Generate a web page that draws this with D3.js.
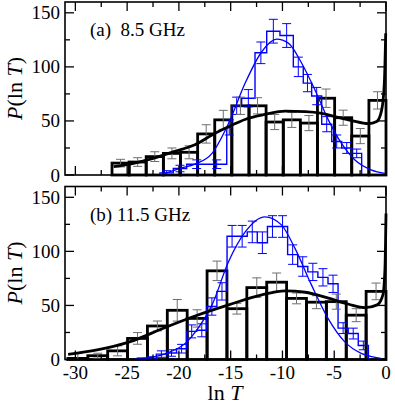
<!DOCTYPE html>
<html><head><meta charset="utf-8">
<script src="https://cdn.jsdelivr.net/npm/d3@7"></script>
<style>body{margin:0;background:#fff}svg{display:block}</style>
</head><body><svg id="c" width="395" height="404" font-family="'Liberation Serif', 'Times New Roman', Times, serif"></svg>
<script>
// ---------- data ----------
const xTicks = [-30,-25,-20,-15,-10,-5,0];
const xMinor = [-27.5,-22.5,-17.5,-12.5,-7.5,-2.5];
const yTicks = [0,50,100,150];
const yMinor = [25,75,125];
const panelLabels = ["(a)  8.5 GHz", "(b) 11.5 GHz"];

// panel (a) black histogram: bin edges, heights, errors
const blackAEdges = [-26.46,-24.81,-23.16,-21.50,-19.85,-18.19,-16.54,-14.89,-13.23,-11.58,-9.92,-8.27,-6.62,-4.96,-3.31,-1.65,0];
const blackAVals  = [11,12,17,20,21,38,51,64,64,49,51,48,71,53,36,69];
const blackAErr   = [3.5,4,4.5,5,6,8.5,8.8,8,7.5,7,7,7,8.5,7,7,8];
// panel (a) blue histogram
const blueAEdges = [-21.83,-20.54,-19.25,-17.32,-15.38,-14.9,-13.94,-12.65,-11.52,-10.24,-8.95,-7.99,-7.18,-6.21,-5.24,-4.28,-3.31,-2.35];
const blueAVals  = [2,6,10,10,44,64,71,113,133,129,100,85,73,47,31,25,20];
const blueAErr   = [2,3,4,4,7,8,8,10,11,11,9,8,8,7,6,5,4];
// panel (a) fitted curves
const blackACurve = [[-26.3,7.7],[-24.4,10.8],[-22.5,15.4],[-20.5,21.6],[-18.45,28],[-16.5,38.6],[-14.9,46],[-13.3,52.5],[-11.7,56],[-9.75,59],[-7.8,58.6],[-6.2,57],[-4.93,54],[-3.3,50.3],[-1.7,47.5],[-0.9,49.4],[-0.42,60],[-0.16,85],[-0.03,131]];
const blueACurve = [[-21.8,0],[-19.9,6.2],[-18.45,10],[-16.8,20],[-15.2,47.8],[-13.6,85],[-12.0,114],[-10.55,125.6],[-9.43,122],[-8.14,103.4],[-6.86,78.7],[-5.57,51],[-4.28,29],[-3.0,13.9],[-1.38,4.6],[-0.1,1.5]];

// panel (b)
const blackBEdges = [-30.72,-28.8,-26.88,-24.96,-23.04,-21.12,-19.2,-17.28,-15.36,-13.44,-11.52,-9.6,-7.68,-5.76,-3.84,-1.92,0];
const blackBVals  = [1,3.5,8,19.5,31,45.5,38,82,47,66.5,71.5,56.5,53,53.5,41,63];
const blackBErr   = [4.5,2.3,4.6,5.4,4.6,10,8,9,5,9,8.5,5,6,7,6,7.7];
const blueBEdges = [-24.13,-23.15,-22.18,-21.2,-20.23,-19.25,-18.28,-17.3,-16.33,-15.35,-14.38,-13.4,-12.43,-11.45,-10.48,-9.5,-8.53,-7.55,-6.58,-5.6,-4.63,-3.65,-2.68,-1.7];
const blueBVals  = [0.5,1,5,6,10,26,27,49,63,114,114,118,108,123,123,97,86,81,76,70,29,24,13,6].slice(0,23);
const blueBErr   = [1,1.5,3,3,4,6,6,8,8,10,10,10,10,10,10,9,9,8,8,8,5,5,4];
const blackBCurve = [[-30.7,4.8],[-27.9,8.8],[-24.7,16.5],[-21.5,28.9],[-18.5,40],[-15.2,50.5],[-12,59.7],[-9.75,63.4],[-7.8,62.2],[-5.56,56.7],[-3.6,51.1],[-2.0,48],[-0.85,50.5],[-0.3,59.7],[-0.1,84],[0,135]];
const blueBCurve = [[-23.9,0.5],[-21.2,5.7],[-19.2,16.5],[-18.3,27],[-16.8,50.5],[-15.2,90.6],[-13.6,118],[-11.7,132],[-10.1,124.5],[-8.8,103],[-7.2,69],[-5.6,38],[-4.0,16.5],[-2.4,5.7],[-1.4,2.6],[-0.5,1]];

// ---------- drawing ----------
const FONT = "'Liberation Serif', 'Times New Roman', Times, serif";
const svg = d3.select("#c");
const X0 = 65, X1 = 386;
const x = d3.scaleLinear().domain([-31,0]).range([X0,X1]);
const panels = [
  {top:2, bot:175, label:panelLabels[0], bE:blackAEdges, bV:blackAVals, bErr:blackAErr, uE:blueAEdges, uV:blueAVals, uErr:blueAErr, bC:blackACurve, uC:blueACurve, xlab:false},
  {top:186.5, bot:359.5, label:panelLabels[1], bE:blackBEdges, bV:blackBVals, bErr:blackBErr, uE:blueBEdges, uV:blueBVals, uErr:blueBErr, bC:blackBCurve, uC:blueBCurve, xlab:true}
];
const BLUE = "#0000ff", GREY = "#6e6e6e";

panels.forEach((p,pi) => {
  const y = d3.scaleLinear().domain([0,160]).range([p.bot,p.top]);
  const g = svg.append("g");

  const bins = p.bV.map((v,i)=>({l:p.bE[i], r:p.bE[i+1], v, e:p.bErr[i]}));
  g.selectAll("rect.b").data(bins).enter().append("rect")
    .attr("x", d=>x(d.l)).attr("y", d=>y(d.v))
    .attr("width", d=>x(d.r)-x(d.l)).attr("height", d=>y(0)-y(d.v))
    .attr("fill","none").attr("stroke","#000").attr("stroke-width",2.8);

  const ub = p.uV.map((v,i)=>({l:p.uE[i], r:p.uE[i+1], v, e:p.uErr[i]}));
  const stepPts = [[ub[0].l,0]];
  ub.forEach(d=>{stepPts.push([d.l,d.v]); stepPts.push([d.r,d.v]);});
  stepPts.push([ub[ub.length-1].r,0]);
  g.append("path").attr("d", d3.line().x(d=>x(d[0])).y(d=>y(d[1]))(stepPts))
    .attr("fill","none").attr("stroke",BLUE).attr("stroke-width",1.4);

  function errs(data, color, sw){
    data.forEach(d=>{
      const cx = x((d.l+d.r)/2), y1 = y(d.v+d.e), y2 = y(Math.max(0,d.v-d.e));
      g.append("line").attr("x1",cx).attr("x2",cx).attr("y1",y1).attr("y2",y2).attr("stroke",color).attr("stroke-width",sw);
      [y1,y2].forEach(yy=>g.append("line").attr("x1",cx-4.5).attr("x2",cx+4.5).attr("y1",yy).attr("y2",yy).attr("stroke",color).attr("stroke-width",sw));
    });
  }
  errs(ub, BLUE, 1);
  errs(bins, GREY, 1);

  const cl = d3.line().x(d=>x(d[0])).y(d=>y(d[1])).curve(d3.curveMonotoneX);
  g.append("path").attr("d", cl(p.uC)).attr("fill","none").attr("stroke",BLUE).attr("stroke-width",1.3);
  g.append("path").attr("d", cl(p.bC)).attr("fill","none").attr("stroke","#000").attr("stroke-width",2.8);

  g.append("rect").attr("x",X0).attr("y",p.top).attr("width",X1-X0).attr("height",p.bot-p.top)
    .attr("fill","none").attr("stroke","#000").attr("stroke-width",1.6);

  const tk = (x1,y1,x2,y2)=>g.append("line").attr("x1",x1).attr("y1",y1).attr("x2",x2).attr("y2",y2).attr("stroke","#000").attr("stroke-width",1.3);
  xTicks.forEach(t=>{ tk(x(t),p.bot,x(t),p.bot-9); tk(x(t),p.top,x(t),p.top+9); });
  xMinor.forEach(t=>{ tk(x(t),p.bot,x(t),p.bot-5); tk(x(t),p.top,x(t),p.top+5); });
  yTicks.forEach(t=>{ tk(X0,y(t),X0+9,y(t)); tk(X1,y(t),X1-9,y(t)); });
  yMinor.forEach(t=>{ tk(X0,y(t),X0+5,y(t)); tk(X1,y(t),X1-5,y(t)); });

  g.selectAll("text.yl").data(yTicks).enter().append("text")
    .attr("x", X0-5).attr("y", d=>y(d)+6.5).attr("text-anchor","end")
    .attr("font-family",FONT).attr("font-size",19).text(d=>d);

  if (p.xlab) {
    g.selectAll("text.xl").data(xTicks).enter().append("text")
      .attr("x", d=>x(d)).attr("y", p.bot+19).attr("text-anchor","middle")
      .attr("font-family",FONT).attr("font-size",19).text(d=>d);
  }

  const yt = g.append("text").attr("transform",`translate(22,${(p.top+p.bot)/2}) rotate(-90)`)
    .attr("text-anchor","middle").attr("font-family",FONT).attr("font-size",22);
  yt.append("tspan").attr("font-style","italic").text("P");
  yt.append("tspan").text("(ln ");
  yt.append("tspan").attr("font-style","italic").text("T");
  yt.append("tspan").text(")");

  g.append("text").attr("x",90).attr("y",p.top+34).attr("font-family",FONT).attr("font-size",19)
    .style("white-space","pre").text(p.label);
});

const xt = svg.append("text").attr("x",225).attr("y",400).attr("text-anchor","middle").attr("font-family",FONT).attr("font-size",22);
xt.append("tspan").text("ln ");
xt.append("tspan").attr("font-style","italic").text("T");
</script>
</body></html>
